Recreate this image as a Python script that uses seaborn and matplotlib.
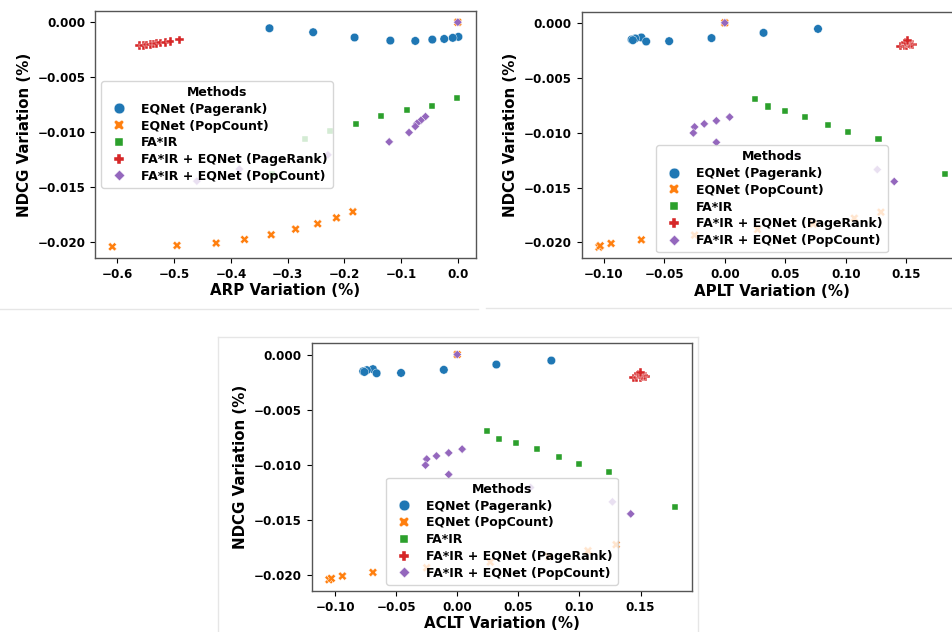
import pandas as pd
import seaborn as sns
import matplotlib.pyplot as plt
from matplotlib.lines import Line2D

# --- DATA ---
METHODS = ["EQNet (Pagerank)", "EQNet (PopCount)", "FA*IR",
           "FA*IR + EQNet (PageRank)", "FA*IR + EQNet (PopCount)"]

# NDCG variation, shared by all three panels
ndcg_pr = [-0.00055, -0.00091, -0.00133, -0.00139, -0.00142, -0.00152, -0.00158, -0.00167, -0.00170]
ndcg_pc = [0.0, -0.02042, -0.02030, -0.02009, -0.01976, -0.01933, -0.01882, -0.01833, -0.01779, -0.01724]
ndcg_fair = [-0.00690, -0.00762, -0.00799, -0.00855, -0.00927, -0.00990, -0.01062, -0.01379]
ndcg_fpr = [-0.00212, -0.00212, -0.00206, -0.00203, -0.00197, -0.00194, -0.00188, -0.00182, -0.00176, -0.00161]
ndcg_fpc = [0.0, -0.00858, -0.00892, -0.00920, -0.00948, -0.01003, -0.01088, -0.01206, -0.01336, -0.01445]

# ARP variation
arp_pr = [-0.332, -0.255, 0.001, -0.182, -0.009, -0.024, -0.045, -0.119, -0.075]
arp_pc = [0.0, -0.609, -0.495, -0.426, -0.376, -0.329, -0.286, -0.247, -0.214, -0.185]
arp_fair = [-0.002, -0.045, -0.089, -0.135, -0.179, -0.225, -0.269, -0.328]
arp_fpr = [-0.561, -0.554, -0.548, -0.542, -0.536, -0.531, -0.524, -0.515, -0.507, -0.491]
arp_fpc = [0.0, -0.057, -0.065, -0.072, -0.075, -0.086, -0.121, -0.229, -0.385, -0.46]

# APLT variation
aplt_pr = [0.077, 0.032, -0.069, -0.011, -0.074, -0.077, -0.076, -0.046, -0.065]
aplt_pc = [0.0, -0.104, -0.103, -0.094, -0.069, -0.025, 0.027, 0.073, 0.107, 0.129]
aplt_fair = [0.025, 0.036, 0.050, 0.066, 0.085, 0.102, 0.127, 0.182]
aplt_fpr = [0.145, 0.148, 0.150, 0.153, 0.155, 0.154, 0.152, 0.150, 0.149, 0.151]
aplt_fpc = [0.0, 0.004, -0.007, -0.017, -0.025, -0.026, -0.007, 0.060, 0.126, 0.140]

# ACLT variation
aclt_pr = [0.077, 0.032, -0.069, -0.011, -0.074, -0.077, -0.076, -0.046, -0.066]
aclt_pc = [0.0, -0.105, -0.103, -0.094, -0.069, -0.025, 0.027, 0.075, 0.107, 0.130]
aclt_fair = [0.024, 0.034, 0.048, 0.065, 0.083, 0.100, 0.124, 0.178]
aclt_fpr = [0.144, 0.147, 0.150, 0.152, 0.154, 0.153, 0.151, 0.149, 0.148, 0.150]
aclt_fpc = [0.0, 0.004, -0.007, -0.017, -0.025, -0.026, -0.007, 0.060, 0.127, 0.142]

NDCG = [ndcg_pr, ndcg_pc, ndcg_fair, ndcg_fpr, ndcg_fpc]


def build_frame(xs_list):
    rows = []
    for method, xs, ys in zip(METHODS, xs_list, NDCG):
        for x, y in zip(xs, ys):
            rows.append({"x": x, "NDCG": y, "Methods": method})
    return pd.DataFrame(rows)


# --- STYLE ---
plt.rcParams["font.family"] = ["DejaVu Sans"]
plt.rcParams["font.weight"] = "bold"
plt.rcParams["axes.labelweight"] = "bold"

fig = plt.figure(figsize=(9.52, 6.32), dpi=100)

panels = [
    ([arp_pr, arp_pc, arp_fair, arp_fpr, arp_fpc], "ARP Variation (%)",
     [0.0998, 0.5918, 0.3999, 0.3908], "center left", None),
    ([aplt_pr, aplt_pc, aplt_fair, aplt_fpr, aplt_fpc], "APLT Variation (%)",
     [0.6110, 0.5913, 0.3999, 0.3903], "lower center", [-0.10, -0.05, 0.0, 0.05, 0.10, 0.15]),
    ([aclt_pr, aclt_pc, aclt_fair, aclt_fpr, aclt_fpc], "ACLT Variation (%)",
     [0.3274, 0.0649, 0.3995, 0.3920], "lower center", [-0.10, -0.05, 0.0, 0.05, 0.10, 0.15]),
]

for xs_list, xlabel, rect, loc, xticks in panels:
    ax = fig.add_axes(rect)
    df = build_frame(xs_list)
    sns.scatterplot(data=df, x="x", y="NDCG", hue="Methods", style="Methods",
                    s=38, linewidth=0.3, ax=ax)
    ax.set_xlabel(xlabel, fontsize=10.8, fontweight="bold", labelpad=2)
    ax.set_ylabel("NDCG Variation (%)", fontsize=10.8, fontweight="bold")
    ax.set_yticks([0.0, -0.005, -0.010, -0.015, -0.020])
    ax.set_yticklabels(["0.000", "\u22120.005", "\u22120.010", "\u22120.015", "\u22120.020"])
    if xticks is not None:
        ax.set_xticks(xticks)
        ax.set_xticklabels([f"{t:.2f}".replace("-", "\u2212") for t in xticks])
    ax.tick_params(labelsize=8.6)
    for sp in ax.spines.values():
        sp.set_color("#555555")
        sp.set_linewidth(1.0)
    sns.move_legend(ax, loc, title="Methods", labelspacing=0.3, markerscale=1.25,
                    prop={"weight": "bold", "size": 9.0},
                    title_fontproperties={"weight": "bold", "size": 9.0})

# light screenshot borders between the panels
for (x0, x1, y0, y1) in [(0.0, 0.502, 0.511, 0.511), (0.511, 1.0, 0.512, 0.512),
                         (0.229, 0.229, 0.0, 0.467), (0.229, 0.733, 0.467, 0.467),
                         (0.733, 0.733, 0.0, 0.467)]:
    fig.add_artist(Line2D([x0, x1], [y0, y1], color="#e6e6e6", lw=1.0))

plt.savefig("out.png", dpi=100)
